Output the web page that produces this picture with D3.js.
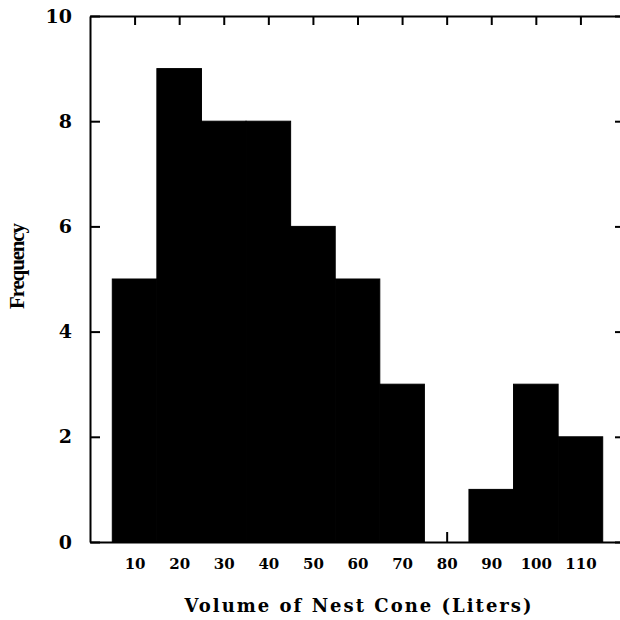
<!DOCTYPE html>
<html lang="en">
<script src="https://d3js.org/d3.v7.min.js"></script>
<style>
  body { margin: 0; background: #fff; }
  .axis path, .axis line { stroke: #000; stroke-width: 2; }
  .axis text { font-family: "DejaVu Serif", serif; font-weight: bold; fill: #000; }
  .lbl { font-family: "DejaVu Serif", serif; font-weight: bold; fill: #000; }
</style>
<body>
<svg width="620" height="620"></svg>
<script>
  // bin centers (liters) and counts
  var bins = [10, 20, 30, 40, 50, 60, 70, 80, 90, 100, 110];
  var freq = [5, 9, 8, 8, 6, 5, 3, 0, 1, 3, 2];
  var yTicks = [0, 2, 4, 6, 8, 10];

  var svg = d3.select("svg");

  // frame runs a bit past the right edge of the picture
  var x = d3.scaleLinear().domain([0, 120]).range([90, 625]);
  var y = d3.scaleLinear().domain([0, 10]).range([542, 16]);

  // bars (thin black stroke closes the seams between neighbours)
  svg.append("g")
    .selectAll("rect").data(bins).enter().append("rect")
    .attr("x", function (d) { return x(d - 5); })
    .attr("width", function (d) { return x(d + 5) - x(d - 5); })
    .attr("y", function (d, i) { return y(freq[i]); })
    .attr("height", function (d, i) { return y(0) - y(freq[i]); })
    .attr("fill", "#000")
    .attr("stroke", "#000")
    .attr("stroke-width", function (d, i) { return freq[i] ? 1 : 0; });

  // axes, ticks pointing inward
  svg.append("g").attr("class", "axis")
    .attr("transform", "translate(" + x(0) + ",0)")
    .call(d3.axisLeft(y).tickValues(yTicks).tickSize(-10).tickSizeOuter(0).tickPadding(18))
    .selectAll("text").style("font-size", "19px");

  svg.append("g").attr("class", "axis")
    .attr("transform", "translate(" + x(120) + ",0)")
    .call(d3.axisRight(y).tickValues(yTicks).tickSize(-10).tickSizeOuter(0).tickFormat(""));

  svg.append("g").attr("class", "axis")
    .attr("transform", "translate(0," + y(10) + ")")
    .call(d3.axisTop(x).tickValues(bins).tickSize(-9).tickSizeOuter(0).tickFormat(""));

  svg.append("g").attr("class", "axis")
    .attr("transform", "translate(0," + y(0) + ")")
    .call(d3.axisBottom(x).tickValues(bins).tickSize(-10).tickSizeOuter(0).tickPadding(16))
    .selectAll("text").style("font-size", "15px");

  // axis titles
  svg.append("text").attr("class", "lbl")
    .attr("x", 358).attr("y", 612)
    .attr("text-anchor", "middle")
    .attr("textLength", 347).attr("lengthAdjust", "spacing")
    .style("font-size", "18px")
    .text("Volume of Nest Cone (Liters)");

  svg.append("text").attr("class", "lbl")
    .attr("transform", "translate(24,266) rotate(-90)")
    .attr("text-anchor", "middle")
    .attr("textLength", 86).attr("lengthAdjust", "spacing")
    .style("font-family", "'Liberation Serif', serif")
    .style("font-size", "21px")
    .text("Frequency");
</script>
</body>
</html>
